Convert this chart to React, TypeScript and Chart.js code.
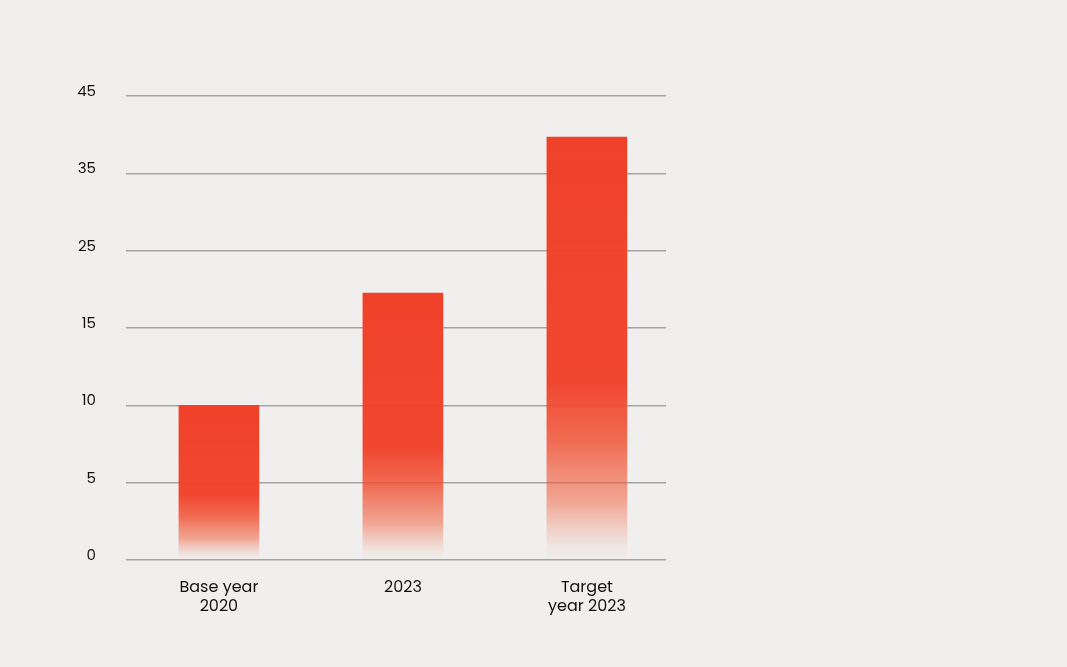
import React, { useEffect, useRef } from "react";
import { Chart, registerables } from "chart.js";

Chart.register(...registerables);

const categories: string[][] = [["Base year", "2020"], ["2023"], ["Target", "year 2023"]];
const values: number[] = [10, 19.5, 39.7];
const yTickValues: number[] = [0, 5, 10, 15, 25, 35, 45];
const yTickLabels: string[] = ["0", "5", "10", "15", "25", "35", "45"];

// map a real value onto the evenly spaced (non-linear) tick positions
function toIndex(v: number): number {
  for (let i = 0; i < yTickValues.length - 1; i++) {
    const a = yTickValues[i];
    const b = yTickValues[i + 1];
    if (v <= b) return i + (v - a) / (b - a);
  }
  return yTickValues.length - 1;
}

const BG = "#f0efed";
const FONT = 'Poppins, "Open Sans", sans-serif';

export default function App() {
  const ref = useRef<HTMLCanvasElement | null>(null);

  useEffect(() => {
    if (!ref.current) return;
    const chart = new Chart(ref.current, {
      type: "bar",
      data: {
        datasets: [
          {
            data: values.map((v, i) => ({ x: i, y: toIndex(v) })),
            barThickness: 80,
            borderWidth: 0,
            backgroundColor: (ctx: any) => {
              const c = ctx.chart;
              const ys = c.scales?.y;
              if (!c.chartArea || !ys || !ctx.raw) return "rgb(240,65,42)";
              const top = ys.getPixelForValue(ctx.raw.y);
              const bottom = ys.getPixelForValue(0);
              const g = c.ctx.createLinearGradient(0, top, 0, bottom);
              g.addColorStop(0, "rgba(240,65,42,1)");
              g.addColorStop(0.58, "rgba(240,65,42,0.97)");
              g.addColorStop(0.72, "rgba(240,75,45,0.8)");
              g.addColorStop(0.86, "rgba(240,90,55,0.5)");
              g.addColorStop(0.97, "rgba(240,110,80,0.06)");
              g.addColorStop(1, "rgba(240,110,80,0)");
              return g;
            },
          },
        ],
      },
      options: {
        animation: false,
        responsive: false,
        maintainAspectRatio: false,
        layout: { padding: { left: 0, top: 96, right: 401, bottom: 47 } },
        plugins: { legend: { display: false }, tooltip: { enabled: false } },
        scales: {
          x: {
            type: "linear",
            offset: false,
            min: -0.505,
            max: 2.43,
            grid: { display: false },
            border: { display: false },
            afterBuildTicks: (scale: any) => {
              scale.ticks = categories.map((_, i) => ({ value: i }));
            },
            afterFit: (scale: any) => {
              scale.height = 60;
            },
            ticks: {
              autoSkip: false,
              maxRotation: 0,
              padding: 10,
              color: "#111111",
              font: { family: FONT, size: 16 },
              callback: (v: any) => categories[Number(v)] ?? "",
            },
          },
          y: {
            type: "linear",
            min: 0,
            max: yTickValues.length - 1,
            afterFit: (scale: any) => {
              scale.width = 126;
            },
            grid: { color: "#a3a3a3", lineWidth: 1.5, drawTicks: false },
            border: { display: false },
            ticks: {
              stepSize: 1,
              padding: 30,
              color: "#111111",
              font: { family: FONT, size: 15, lineHeight: 0.5 },
              callback: (v: any) => {
                const t = yTickLabels[Number(v)];
                return t === undefined ? "" : [t, ""];
              },
            },
          },
        },
      },
    });
    return () => chart.destroy();
  }, []);

  return (
    <div style={{ position: "fixed", left: 0, top: 0, width: 1067, height: 667, background: BG }}>
      <canvas ref={ref} width={1067} height={667} style={{ display: "block" }} />
    </div>
  );
}
